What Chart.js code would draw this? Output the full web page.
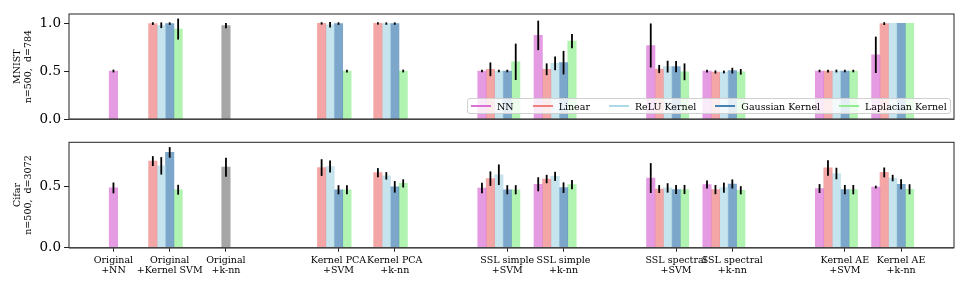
<!DOCTYPE html>
<html>
<head>
<meta charset="utf-8">
<script src="https://cdn.jsdelivr.net/npm/chart.js@4.4.1/dist/chart.umd.min.js"></script>
<style>
  body { margin: 0; background: #fff; }
  #wrap { position: relative; width: 969px; height: 291px; }
  canvas { position: absolute; left: 0; }
  #topChart { top: 0; }
  #botChart { top: 131px; }
  #legend {
    position: absolute; left: 467px; top: 98px; height: 14px;
    padding: 0 3px; border: 1px solid #d0d0d0; border-radius: 3px;
    background: rgba(255,255,255,0.8);
    display: flex; align-items: center; white-space: nowrap;
    font-family: 'DejaVu Serif', serif; font-size: 9.5px; color: #000;
  }
  .item { display: flex; align-items: center; margin-right: 19px; }
  .item:last-child { margin-right: 0; }
  .handle { width: 20px; height: 2px; margin-right: 6px; }
</style>
</head>
<body>
<div id="wrap">
  <canvas id="topChart" width="969" height="131"></canvas>
  <canvas id="botChart" width="969" height="160"></canvas>
  <div id="legend"></div>
</div>
<script>
// --- Data ---
const categories = [
  "Original\n+NN", "Original\n+Kernel SVM", "Original\n+k-nn",
  "Kernel PCA\n+SVM", "Kernel PCA\n+k-nn",
  "SSL simple\n+SVM", "SSL simple\n+k-nn",
  "SSL spectral\n+SVM", "SSL spectral\n+k-nn",
  "Kernel AE\n+SVM", "Kernel AE\n+k-nn",
];
const seriesNames = ["NN", "Linear", "ReLU Kernel", "Gaussian Kernel", "Laplacian Kernel"];

// MNIST, n=500, d=784
const mnistNN        = [0.503, null, null, null, null, 0.503, 0.874, 0.769, 0.503, 0.503, 0.672];
const mnistNNErr     = [0.005, null, null, null, null, 0.004, 0.144, 0.22, 0.005, 0.004, 0.18];
const mnistLinear    = [null, 0.997, null, 0.999, 0.999, 0.521, 0.521, 0.524, 0.493, 0.503, 0.997];
const mnistLinearErr = [null, 0.005, null, 0.003, 0.003, 0.062, 0.052, 0.033, 0.007, 0.005, 0.005];
const mnistRelu      = [null, 0.98, null, 0.985, 0.997, 0.503, 0.583, 0.549, 0.493, 0.503, 1.0];
const mnistReluErr   = [null, 0.02, null, 0.02, 0.003, 0.004, 0.062, 0.052, 0.005, 0.005, 0];
const mnistGauss     = [null, 0.997, null, 0.997, 0.997, 0.503, 0.59, 0.549, 0.507, 0.503, 1.0];
const mnistGaussErr  = [null, 0.004, null, 0.004, 0.003, 0.004, 0.113, 0.05, 0.02, 0.004, 0];
const mnistLap       = [null, 0.94, null, 0.503, 0.503, 0.599, 0.814, 0.495, 0.495, 0.503, 1.0];
const mnistLapErr    = [null, 0.10, null, 0.005, 0.005, 0.18, 0.064, 0.078, 0.02, 0.004, 0];
const mnistRawKnn    = [null, null, 0.976, null, null, null, null, null, null, null, null];
const mnistRawKnnErr = [null, null, 0.017, null, null, null, null, null, null, null, null];

// Cifar, n=500, d=3072
const cifarNN        = [0.49, null, null, null, null, 0.489, 0.52, 0.571, 0.518, 0.485, 0.497];
const cifarNNErr     = [0.037, null, null, null, null, 0.036, 0.05, 0.115, 0.026, 0.029, 0.004];
const cifarLinear    = [null, 0.71, null, 0.657, 0.615, 0.566, 0.563, 0.481, 0.476, 0.654, 0.617];
const cifarLinearErr = [null, 0.033, null, 0.061, 0.03, 0.052, 0.027, 0.025, 0.03, 0.056, 0.033];
const cifarRelu      = [null, 0.671, null, 0.665, 0.589, 0.598, 0.585, 0.49, 0.492, 0.608, 0.571];
const cifarReluErr   = [null, 0.064, null, 0.042, 0.023, 0.077, 0.03, 0.031, 0.034, 0.04, 0.019];
const cifarGauss     = [null, 0.781, null, 0.475, 0.499, 0.475, 0.492, 0.477, 0.522, 0.476, 0.52];
const cifarGaussErr  = [null, 0.036, null, 0.03, 0.04, 0.03, 0.036, 0.03, 0.03, 0.031, 0.034];
const cifarLap       = [null, 0.475, null, 0.475, 0.527, 0.475, 0.517, 0.477, 0.471, 0.476, 0.479];
const cifarLapErr    = [null, 0.033, null, 0.03, 0.026, 0.03, 0.031, 0.03, 0.026, 0.031, 0.034];
const cifarRawKnn    = [null, null, 0.66, null, null, null, null, null, null, null, null];
const cifarRawKnnErr = [null, null, 0.07, null, null, null, null, null, null, null, null];

// --- Styles ---
const BAR_W = 0.15;
const lineColors = ["#DA70D6", "#F08080", "#ADD8E6", "#4682B4", "#90EE90", "#808080"];
const fillColors = lineColors.map(c => {
  const n = parseInt(c.slice(1), 16);
  return `rgba(${n >> 16},${(n >> 8) & 255},${n & 255},0.7)`;
});

Chart.defaults.font.family = "'DejaVu Serif', serif";
Chart.defaults.color = "#000";

// --- x slots: one blank slot between method families ---
const slots = [];
let slot = 0;
categories.forEach((c, i) => {
  if (i > 0 && c.split("\n")[0] !== categories[i - 1].split("\n")[0]) slot++;
  slots.push(slot++);
});

function buildDatasets(vals, errs) {
  return vals.map((series, k) => ({
    label: k < seriesNames.length ? seriesNames[k] : "k-nn (raw)",
    data: series.map((v, i) => {
      if (v == null) return null;
      const n = vals.filter(s => s[i] != null).length;
      const off = n === 1 ? 0 : (k - 3) * BAR_W;
      return { x: slots[i] + off, y: v, err: errs[k][i] };
    }).filter(Boolean),
    backgroundColor: fillColors[k],
    borderWidth: 0,
    grouped: false,
    barPercentage: 1,
    categoryPercentage: 1,
  }));
}

// --- error bars + axes frame ---
const errorBars = {
  id: "errorBars",
  afterDatasetsDraw(chart) {
    const { ctx, scales: { y } } = chart;
    ctx.save();
    ctx.strokeStyle = "#000";
    ctx.lineWidth = 1.8;
    ctx.lineCap = "square";
    chart.data.datasets.forEach((ds, di) => {
      chart.getDatasetMeta(di).data.forEach((bar, j) => {
        const p = ds.data[j];
        if (!p || !p.err) return;
        ctx.beginPath();
        ctx.moveTo(bar.x, y.getPixelForValue(p.y - p.err));
        ctx.lineTo(bar.x, y.getPixelForValue(p.y + p.err));
        ctx.stroke();
      });
    });
    const a = chart.chartArea;
    ctx.lineCap = "butt";
    ctx.lineWidth = 1;
    ctx.strokeStyle = "#222";
    ctx.strokeRect(a.left, a.top, a.right - a.left, a.bottom - a.top);
    ctx.lineWidth = 1.6;
    ctx.strokeStyle = "#444";
    ctx.beginPath();
    ctx.moveTo(a.left, a.bottom);
    ctx.lineTo(a.right, a.bottom);
    ctx.stroke();
    ctx.restore();
  },
};

function makeChart(id, datasets, yMax, yTitle, showX, padding) {
  return new Chart(document.getElementById(id), {
    type: "bar",
    data: { datasets },
    plugins: [errorBars],
    options: {
      responsive: false,
      animation: false,
      devicePixelRatio: 1,
      layout: { padding },
      plugins: { legend: { display: false }, tooltip: { enabled: false } },
      scales: {
        x: {
          type: "linear",
          min: -0.79,
          max: 14.94,
          offset: false,
          display: showX,
          afterBuildTicks: ax => { ax.ticks = slots.map(v => ({ value: v })); },
          afterFit: ax => { ax.height = showX ? 43.3 : 0; },
          ticks: {
            autoSkip: false,
            maxRotation: 0,
            padding: 4,
            font: { size: 9.5, lineHeight: 1.05 },
            callback: (v, i) => categories[i].split("\n"),
          },
          grid: { offset: false, drawOnChartArea: false, tickLength: 4, color: "#222" },
          border: { display: false },
        },
        y: {
          min: 0,
          max: yMax,
          afterFit: ax => { ax.width = 69; },
          ticks: {
            stepSize: 0.5,
            includeBounds: false,
            padding: 3,
            font: { size: 13.5 },
            callback: v => v.toFixed(1),
          },
          grid: { drawOnChartArea: false, tickLength: 5, color: "#222" },
          border: { display: false },
          title: {
            display: true,
            text: yTitle,
            font: { size: 9.5, lineHeight: 1.2 },
            padding: { top: 11.8, bottom: 0 },
          },
        },
      },
    },
  });
}

makeChart("topChart",
  buildDatasets([mnistNN, mnistLinear, mnistRelu, mnistGauss, mnistLap, mnistRawKnn],
                [mnistNNErr, mnistLinearErr, mnistReluErr, mnistGaussErr, mnistLapErr, mnistRawKnnErr]),
  1.097, ["MNIST", "n=500,  d=784"], false,
  { top: 14, right: 15, bottom: 11.7, left: 0 });

makeChart("botChart",
  buildDatasets([cifarNN, cifarLinear, cifarRelu, cifarGauss, cifarLap, cifarRawKnn],
                [cifarNNErr, cifarLinearErr, cifarReluErr, cifarGaussErr, cifarLapErr, cifarRawKnnErr]),
  0.864, ["Cifar", "n=500,  d=3072"], true,
  { top: 11.3, right: 15, bottom: 0, left: 0 });

// --- Legend ---
document.getElementById("legend").innerHTML = seriesNames.map((name, k) => `
  <div class="item"><span class="handle" style="background:${lineColors[k]}"></span>${name}</div>
`).join("");
</script>
</body>
</html>
